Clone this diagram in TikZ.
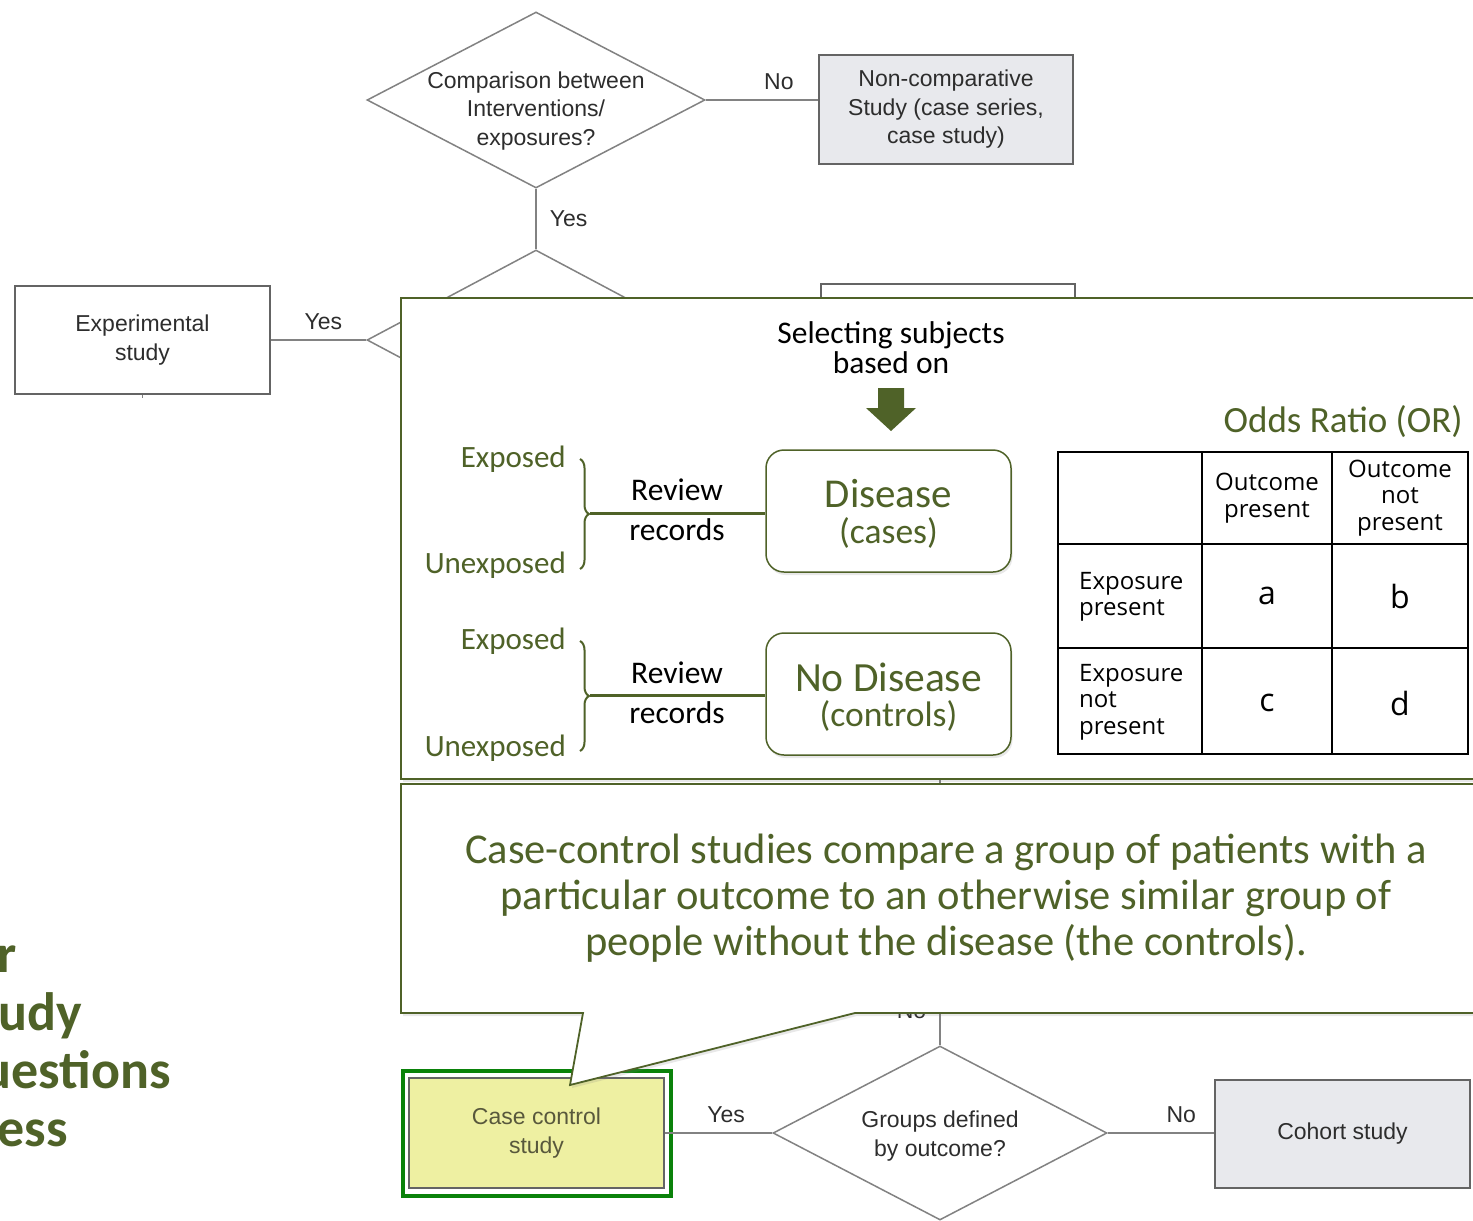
\documentclass[tikz,border=0pt]{standalone}
\usepackage{fontspec}
\setmainfont{Carlito}
\newfontfamily\flowfont{Liberation Sans}
\newfontfamily\gridfont{Open Sans}
\usetikzlibrary{shapes.geometric,shadows,decorations.pathreplacing}

\definecolor{leaf}{RGB}{79,98,40}
\definecolor{chartline}{RGB}{130,130,130}
\definecolor{chartedge}{RGB}{100,100,100}
\definecolor{charttext}{RGB}{45,45,45}
\definecolor{greyfill}{RGB}{232,233,237}
\definecolor{yellowfill}{RGB}{238,240,162}
\definecolor{marker}{RGB}{10,130,10}
\definecolor{casetext}{RGB}{88,88,60}

\tikzset{
  chart/.style={font=\flowfont\fontsize{23}{28.5}\selectfont, text=charttext, align=center, inner sep=0pt},
  decision/.style={diamond, draw=chartline, line width=1.5pt, fill=white, inner sep=0pt},
  studybox/.style={chart, rectangle, draw=chartedge, line width=1.5pt},
  link/.style={draw=chartline, line width=1.5pt},
  answer/.style={chart, above=10pt},
  panel/.style={draw=leaf, line width=1.8pt, fill=white,
    drop shadow={shadow xshift=2pt, shadow yshift=-3pt, opacity=0.18}},
  groupbox/.style={draw=leaf, line width=1.5pt, rounded corners=18pt, fill=white,
    minimum width=245pt, minimum height=122pt,
    drop shadow={shadow xshift=1.5pt, shadow yshift=-3pt, opacity=0.18}},
  exposure/.style={text=leaf, inner sep=0pt, anchor=east, font=\fontsize{31}{33}\selectfont},
  note/.style={inner sep=0pt, align=center, font=\fontsize{31.5}{30}\selectfont},
  groupbrace/.style={draw=leaf, line width=2pt, decorate, decoration={brace, amplitude=9pt}},
  recordline/.style={draw=leaf, line width=3pt},
  gridtext/.style={inner sep=0pt, font=\gridfont\fontsize{24}{26.5}\selectfont},
  gridletter/.style={inner sep=0pt, font=\gridfont\fontsize{32}{36}\selectfont},
  gridrule/.style={draw=black, line width=1.5pt},
  sidetitle/.style={text=leaf, inner sep=0pt, anchor=base east, font=\bfseries\fontsize{54}{58}\selectfont},
}

\begin{document}
\begin{tikzpicture}[x=1pt, y=-1pt]
\useasboundingbox (0,0) rectangle (1473,1221);
\fill[white] (0,0) rectangle (1473,1221);

% ---------- flowchart: upper decisions ----------
\node[decision, minimum width=338pt, minimum height=176pt] (cmp) at (536,100) {};
\node[chart] (cmptext) at (536,111) {Comparison between\\Interventions/\\exposures?};
\node[studybox, fill=greyfill, minimum width=254pt, minimum height=109pt] (noncmp) at (946,109.5)
  {Non-comparative\\Study (case series,\\case study)};
\draw[link] (cmp.east) -- node[answer, pos=0.65] {No} (cmp.east -| noncmp.west);

\node[decision, minimum width=338pt, minimum height=180pt] (sel) at (536,340) {};
\draw[link] (cmp.south) -- node[chart, right=13pt] {Yes} (sel.north);

\node[studybox, fill=white, minimum width=255pt, minimum height=108pt] (exp) at (142.5,340) {Experimental\\study};
\draw[link] (exp.east) -- node[answer, pos=0.55] {Yes} (sel.west);
\coordinate (expstub) at (142.5,398);
\draw[link, line width=1pt] (exp.south) -- (expstub);

\node[studybox, fill=white, minimum width=254pt, minimum height=108pt] (obs) at (948,338) {};
\draw[link] (sel.east) -- (sel.east -| obs.west);

% ---------- flowchart: lower decisions ----------
\node[decision, minimum width=334pt, minimum height=174pt] (grp) at (940,1133) {};
\node[chart] (grptext) at (940,1136) {Groups defined\\by outcome?};
\node[studybox, fill=yellowfill, text=casetext, minimum width=255pt, minimum height=110pt] (cc) at (536.5,1133)
  {Case control\\study};
\node[draw=marker, line width=4pt, minimum width=268pt, minimum height=125pt] (ccmark) at (cc) {};
\node[studybox, fill=greyfill, minimum width=255pt, minimum height=108pt] (coh) at (1342.5,1134) {Cohort study};
\draw[link] (cc.east) -- node[answer, pos=0.57] {Yes} (grp.west);
\draw[link] (grp.east) -- node[answer, pos=0.69] {No} (grp.east -| coh.west);
\coordinate (grpup) at (940,700);
\draw[link] (grp.north) -- node[chart, pos=0.1, left=13pt] {No} (grpup);

% ---------- overlay panels ----------
\draw[panel] (401,298) rectangle (1495,779);
\draw[panel] (401,784) -- (1495,784) -- (1495,1013) -- (855,1013) -- (570,1085)
  -- (583,1013) -- (401,1013) -- cycle;

% ---------- case / control selection ----------
\node[note] (selhead) at (891,348) {Selecting subjects\\based on};
\fill[leaf] (878,388) -- (904,388) -- (904,408) -- (916,408) -- (891,431)
  -- (866,408) -- (878,408) -- cycle;

\node[groupbox] (dis) at (888.5,511) {};
\node[text=leaf, inner sep=0pt, font=\fontsize{41}{44}\selectfont] (distitle) at (888.5,494) {Disease};
\node[text=leaf, inner sep=0pt, font=\fontsize{35.5}{38}\selectfont] (dissub) at (888.5,533) {(cases)};

\node[groupbox] (nodis) at (888.5,694) {};
\node[text=leaf, inner sep=0pt, font=\fontsize{41.5}{44}\selectfont] (nodistitle) at (888.5,677) {No Disease};
\node[text=leaf, inner sep=0pt, font=\fontsize{35.5}{38}\selectfont] (nodissub) at (888.5,716) {(controls)};

\node[exposure] (expA) at (566,459) {Exposed};
\node[exposure] (unexpA) at (566,565) {Unexposed};
\draw[groupbrace] (580,459) -- (580,569);
\coordinate (tipA) at (590,513);
\draw[recordline] (tipA) -- (tipA -| dis.west);
\node[note] (revA) at (677,490) {Review};
\node[note] (recA) at (677,530) {records};

\node[exposure] (expB) at (566,641) {Exposed};
\node[exposure] (unexpB) at (566,748) {Unexposed};
\draw[groupbrace] (580,641) -- (580,751);
\coordinate (tipB) at (590,695);
\draw[recordline] (tipB) -- (tipB -| nodis.west);
\node[note] (revB) at (677,673) {Review};
\node[note] (recB) at (677,713) {records};

% ---------- odds ratio table ----------
\node[text=leaf, inner sep=0pt, anchor=base east, font=\fontsize{37}{40}\selectfont] (ortitle) at (1463,432) {Odds Ratio (OR)};
\draw[gridrule] (1058,452) rectangle (1468,754);
\draw[gridrule] (1202,452) -- (1202,754) (1332,452) -- (1332,754)
  (1058,544) -- (1468,544) (1058,648) -- (1468,648);
\node[gridtext, align=center] (hdpresent) at (1267,498) {Outcome\\present};
\node[gridtext, align=center] (hdabsent) at (1400,498) {Outcome\\not\\present};
\node[gridtext, align=left, anchor=west] (rwpresent) at (1079,597) {Exposure\\present};
\node[gridtext, align=left, anchor=west] (rwabsent) at (1079,702) {Exposure\\not\\present};
\node[gridletter] (cella) at (1267,596) {a};
\node[gridletter] (cellb) at (1400,596) {b};
\node[gridletter] (cellc) at (1267,703) {c};
\node[gridletter] (celld) at (1400,703) {d};

% ---------- callout text ----------
\node[text=leaf, inner sep=0pt, align=center, font=\fontsize{42.5}{46}\selectfont] (calltext) at (946,898)
  {Case-control studies compare a group of patients with a\\
   particular outcome to an otherwise similar group of\\
   people without the disease (the controls).};

% ---------- side title ----------
\node[sidetitle] (sideA) at (17,972) {r};
\node[sidetitle] (sideB) at (82,1030) {udy};
\node[sidetitle] (sideC) at (171,1088) {uestions};
\node[sidetitle] (sideD) at (68,1146) {ess};
\end{tikzpicture}
\end{document}
